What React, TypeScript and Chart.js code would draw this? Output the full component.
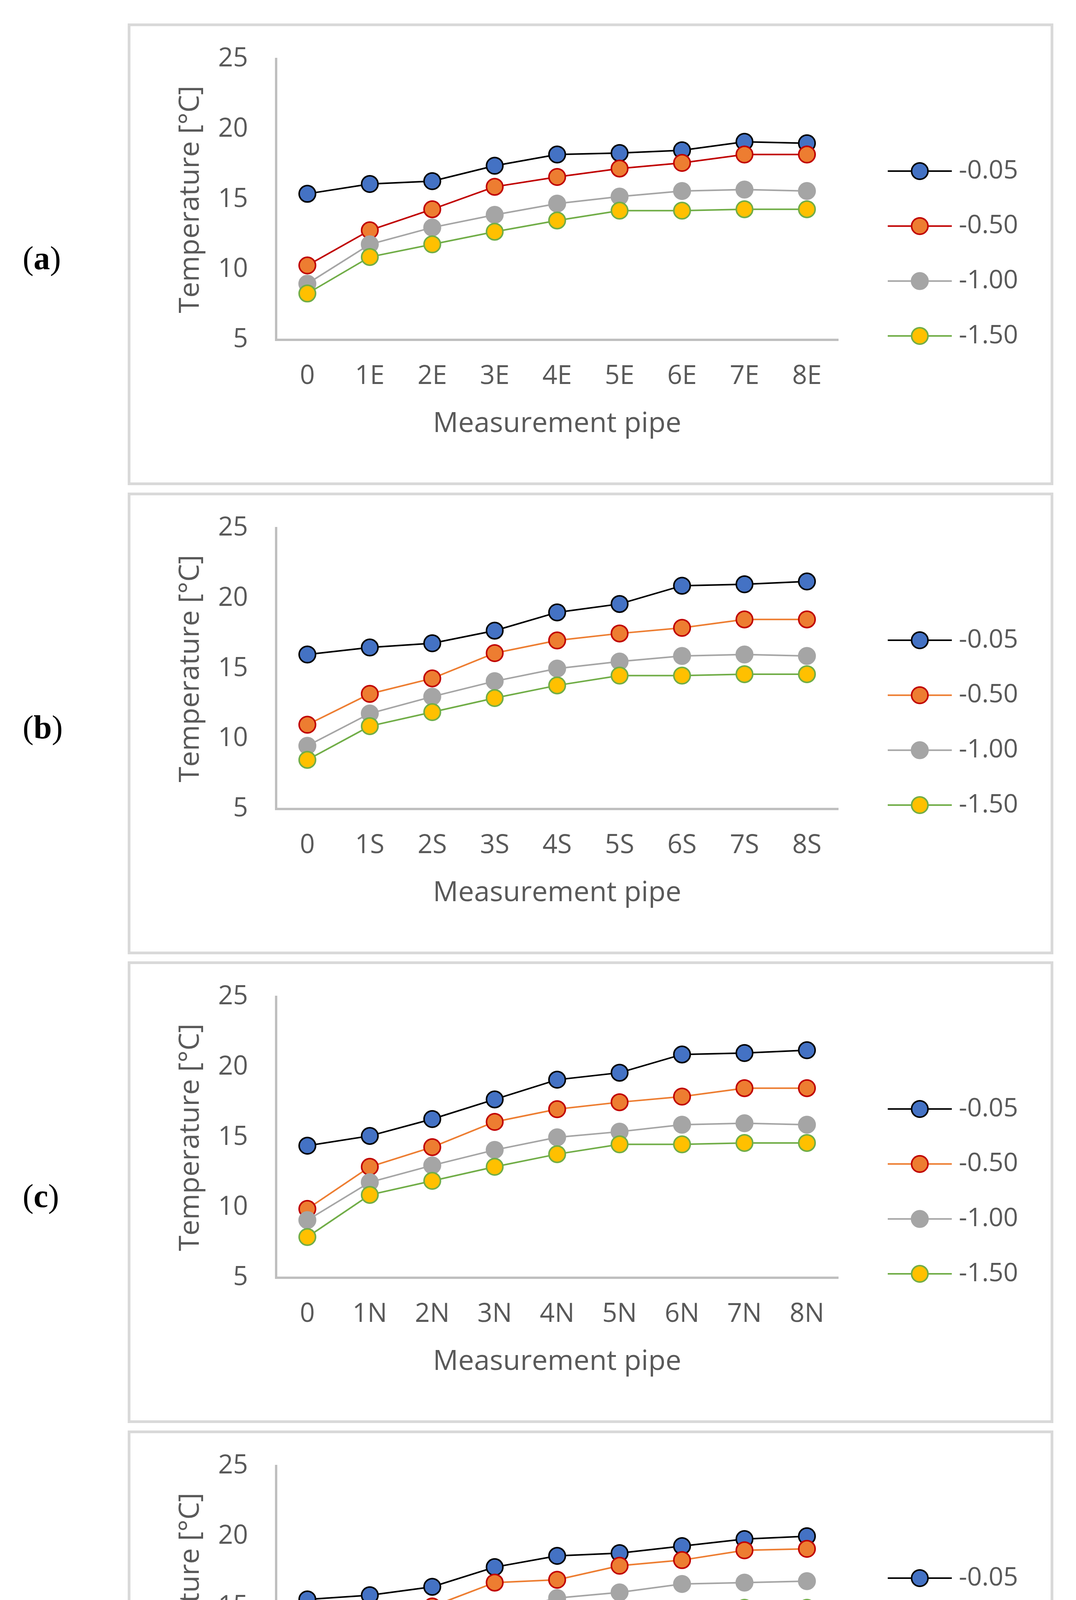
import React, { useEffect, useRef } from "react";
import { Chart, registerables } from "chart.js";

Chart.register(...registerables);

// ---------- data ----------
const seriesLabels = ["-0.05", "-0.50", "-1.00", "-1.50"];
const yTicks = [5, 10, 15, 20, 25];

const categoriesA = ["0", "1E", "2E", "3E", "4E", "5E", "6E", "7E", "8E"];
const a005 = [15.4, 16.1, 16.3, 17.4, 18.2, 18.3, 18.5, 19.1, 19.0];
const a050 = [10.3, 12.8, 14.3, 15.9, 16.6, 17.2, 17.6, 18.2, 18.2];
const a100 = [9.0, 11.8, 13.0, 13.9, 14.7, 15.2, 15.6, 15.7, 15.6];
const a150 = [8.3, 10.9, 11.8, 12.7, 13.5, 14.2, 14.2, 14.3, 14.3];

const categoriesB = ["0", "1S", "2S", "3S", "4S", "5S", "6S", "7S", "8S"];
const b005 = [16.0, 16.5, 16.8, 17.7, 19.0, 19.6, 20.9, 21.0, 21.2];
const b050 = [11.0, 13.2, 14.3, 16.1, 17.0, 17.5, 17.9, 18.5, 18.5];
const b100 = [9.5, 11.8, 13.0, 14.1, 15.0, 15.5, 15.9, 16.0, 15.9];
const b150 = [8.5, 10.9, 11.9, 12.9, 13.8, 14.5, 14.5, 14.6, 14.6];

const categoriesC = ["0", "1N", "2N", "3N", "4N", "5N", "6N", "7N", "8N"];
const c005 = [14.4, 15.1, 16.3, 17.7, 19.1, 19.6, 20.9, 21.0, 21.2];
const c050 = [9.9, 12.9, 14.3, 16.1, 17.0, 17.5, 17.9, 18.5, 18.5];
const c100 = [9.1, 11.8, 13.0, 14.1, 15.0, 15.4, 15.9, 16.0, 15.9];
const c150 = [7.9, 10.9, 11.9, 12.9, 13.8, 14.5, 14.5, 14.6, 14.6];

const categoriesD = ["0", "1W", "2W", "3W", "4W", "5W", "6W", "7W", "8W"];
const d005 = [15.5, 15.8, 16.4, 17.8, 18.6, 18.8, 19.3, 19.8, 20.0];
const d050 = [11.0, 13.4, 15.0, 16.7, 16.9, 17.9, 18.3, 19.0, 19.1];
const d100 = [9.8, 12.1, 13.9, 14.5, 15.6, 16.0, 16.6, 16.7, 16.8];
const d150 = [8.5, 11.6, 12.0, 13.4, 14.5, 14.55, 14.8, 14.9, 14.9];

// ---------- styles ----------
const FONT = "'Open Sans', 'Noto Sans', sans-serif";
const TEXT = "#595959";
const AXIS = "#BFBFBF";

const W = 2370;
const H = 1182;
const LEFT = 327;

const sideLegend = {
  id: "sideLegend",
  afterDraw(chart: any) {
    const ctx = chart.ctx;
    const area = chart.chartArea;
    chart.data.datasets.forEach((ds: any, i: number) => {
      const y = area.top + 287 + i * 140.7;
      const x0 = area.right + 127;
      const x1 = area.right + 291;
      const cx = area.right + 209;
      const tx = area.right + 309;
      ctx.save();
      ctx.strokeStyle = ds.borderColor;
      ctx.lineWidth = ds.borderWidth;
      ctx.beginPath();
      ctx.moveTo(x0, y);
      ctx.lineTo(x1, y);
      ctx.stroke();
      ctx.beginPath();
      ctx.arc(cx, y, ds.pointRadius, 0, Math.PI * 2);
      ctx.fillStyle = ds.pointBackgroundColor;
      ctx.fill();
      ctx.lineWidth = ds.pointBorderWidth;
      ctx.strokeStyle = ds.pointBorderColor;
      ctx.stroke();
      ctx.fillStyle = TEXT;
      ctx.font = `66px ${FONT}`;
      ctx.textAlign = "left";
      ctx.textBaseline = "middle";
      ctx.fillText(ds.label, tx, y);
      ctx.restore();
    });
  },
};

type PanelProps = {
  top: number;
  label: string;
  categories: string[];
  values: number[][];
  orangeLine: string;
};

function Panel({ top, label, categories, values, orangeLine }: PanelProps) {
  const ref = useRef<HTMLCanvasElement | null>(null);

  useEffect(() => {
    if (!ref.current) return;
    const lineColors = ["#000000", orangeLine, "#A5A5A5", "#70AD47"];
    const fills = ["#4472C4", "#ED7D31", "#A5A5A5", "#FFC000"];
    const borders = ["#000000", "#C00000", "#A5A5A5", "#70AD47"];
    const chart = new Chart(ref.current, {
      type: "line",
      data: {
        labels: categories,
        datasets: values.map((v, i) => ({
          label: seriesLabels[i],
          data: v,
          borderColor: lineColors[i],
          borderWidth: 4,
          pointRadius: 21,
          pointHoverRadius: 21,
          pointBorderWidth: 4,
          pointBackgroundColor: fills[i],
          pointBorderColor: borders[i],
          tension: 0,
          fill: false,
          order: 3 - i,
          clip: false as any,
        })),
      },
      options: {
        responsive: false,
        animation: false,
        devicePixelRatio: 1,
        events: [],
        layout: { padding: { left: 0, top: 91, right: 551, bottom: 0 } },
        plugins: {
          legend: { display: false },
          tooltip: { enabled: false },
          title: { display: false },
        },
        scales: {
          x: {
            type: "category",
            offset: true,
            grid: { display: false, drawTicks: false },
            border: { display: true, color: AXIS, width: 6 },
            ticks: {
              color: TEXT,
              font: { family: FONT, size: 67 },
              padding: 54,
              maxRotation: 0,
              autoSkip: false,
            },
            title: {
              display: true,
              text: "Measurement pipe",
              color: TEXT,
              font: { family: FONT, size: 72 },
              padding: { top: 0, bottom: 113 },
            },
            afterFit: (s: any) => {
              s.height = 372;
              s.paddingLeft = 0;
              s.paddingRight = 0;
            },
          },
          y: {
            type: "linear",
            min: 5,
            max: 25,
            afterBuildTicks: (s: any) => {
              s.ticks = yTicks.map((v) => ({ value: v }));
            },
            grid: { display: false, drawTicks: false },
            border: { display: true, color: AXIS, width: 6 },
            ticks: {
              color: TEXT,
              font: { family: FONT, size: 67 },
              padding: 72,
            },
            title: {
              display: true,
              text: "Temperature [°C]",
              color: TEXT,
              font: { family: FONT, size: 72 },
              padding: { top: 118, bottom: 0 },
            },
            afterFit: (s: any) => {
              s.width = 380;
              s.paddingTop = 0;
              s.paddingBottom = 0;
            },
          },
        },
      },
      plugins: [sideLegend],
    });
    return () => chart.destroy();
  }, [categories, values, orangeLine]);

  return (
    <>
      <div
        style={{
          position: "absolute",
          left: LEFT,
          top,
          width: W,
          height: H,
          boxSizing: "border-box",
          border: "7px solid #D9D9D9",
          background: "#FFFFFF",
        }}
      />
      <canvas
        ref={ref}
        width={W}
        height={H}
        style={{ position: "absolute", left: LEFT, top, width: W, height: H }}
      />
      <div
        style={{
          position: "absolute",
          left: 58,
          top: top + 559,
          fontFamily: "'Liberation Serif', 'DejaVu Serif', serif",
          fontSize: 84,
          lineHeight: "84px",
          color: "#000000",
          whiteSpace: "nowrap",
        }}
      >
        (<b>{label}</b>)
      </div>
    </>
  );
}

const panelTops = [60, 1261, 2461, 3662];

export default function App() {
  return (
    <div
      style={{
        position: "absolute",
        left: 0,
        top: 0,
        width: 2755,
        height: 4899,
        background: "#FFFFFF",
        overflow: "hidden",
      }}
    >
      <Panel top={panelTops[0]} label="a" categories={categoriesA} values={[a005, a050, a100, a150]} orangeLine="#C00000" />
      <Panel top={panelTops[1]} label="b" categories={categoriesB} values={[b005, b050, b100, b150]} orangeLine="#ED7D31" />
      <Panel top={panelTops[2]} label="c" categories={categoriesC} values={[c005, c050, c100, c150]} orangeLine="#ED7D31" />
      <Panel top={panelTops[3]} label="d" categories={categoriesD} values={[d005, d050, d100, d150]} orangeLine="#ED7D31" />
    </div>
  );
}
